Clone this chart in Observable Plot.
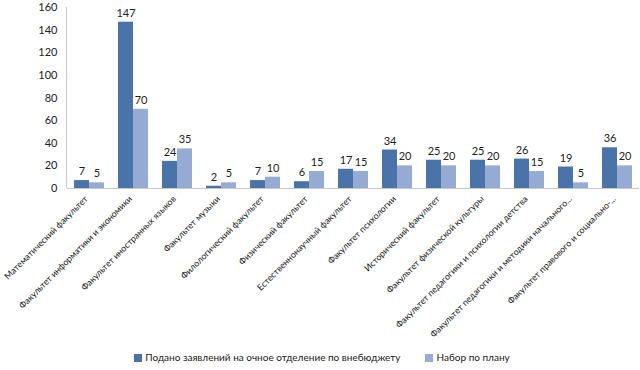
<!DOCTYPE html>
<html><head><meta charset="utf-8">
<script src="https://cdn.jsdelivr.net/npm/d3@7"></script>
<script src="https://cdn.jsdelivr.net/npm/@observablehq/plot@0.6"></script>
<style>
body{margin:0;background:#fff;font-family:Lato,"Open Sans",sans-serif;}
#legend{display:flex;justify-content:center;gap:25px;font-size:10px;color:#222;margin-top:1px;padding-left:4px}
#legend span.sw{display:inline-block;width:8px;height:8px;margin-right:3px;vertical-align:-1px}
</style></head>
<body><div id="chart"></div><div id="legend"></div>
<script>
const categories = [
  "Математический факультет",
  "Факультет информатики и экономики",
  "Факультет иностранных языков",
  "Факультет музыки",
  "Филологический факультет",
  "Физический факультет",
  "Естественнонаучный факультет",
  "Факультет психологии",
  "Исторический факультет",
  "Факультет физической культуры",
  "Факультет педагогики и психологии детства",
  "Факультет педагогики и методики начального...",
  "Факультет правового и социально-..."
];
const seriesNames = ["Подано заявлений на очное отделение по внебюджету", "Набор по плану"];
const applied = [7, 147, 24, 2, 7, 6, 17, 34, 25, 25, 26, 19, 36];
const planned = [5, 70, 35, 5, 10, 15, 15, 20, 20, 20, 15, 5, 20];
const colors = ["#4a74a9", "#95abd4"];
const yTicks = [0, 20, 40, 60, 80, 100, 120, 140, 160];

const data = [];
categories.forEach((c, i) => {
  data.push({cat: c, series: seriesNames[0], value: applied[i]});
  data.push({cat: c, series: seriesNames[1], value: planned[i]});
});

// size category labels so the longest fits like the reference and the first stays inside the page
const ctx = document.createElement("canvas").getContext("2d");
ctx.font = "10px Lato";
const longW = ctx.measureText(categories[11]).width;
const firstW = ctx.measureText(categories[0]).width;
const labelSize = Math.min(11, 10 * 204 / longW, 10 * 114 / firstW);

const chart = Plot.plot({
  width: 640,
  height: 350,
  marginLeft: 66,
  marginRight: 0,
  marginTop: 7,
  marginBottom: 162,
  style: {fontFamily: "Lato, 'Open Sans', sans-serif", fontSize: "11px", color: "#222", overflow: "visible"},
  fx: {domain: categories, padding: 0, label: null, axis: null},
  x: {domain: seriesNames, paddingInner: 0, paddingOuter: 0.38, axis: null},
  y: {domain: [0, 160], ticks: yTicks, label: null},
  color: {domain: seriesNames, range: colors},
  marks: [
    Plot.axisY({ticks: yTicks, tickSize: 0, tickPadding: 10, label: null, fontSize: 11}),
    Plot.barY(data, {fx: "cat", x: "series", y: "value", fill: "series"}),
    Plot.text(data, {fx: "cat", x: "series", y: "value", text: d => String(d.value), dy: -9, fontSize: 11, fill: "#222"}),
    Plot.text(categories, {fx: d => d, text: d => d, frameAnchor: "bottom", rotate: -45, textAnchor: "end", dx: -1, dy: 11, fontSize: labelSize, fill: "#222"}),
    Plot.ruleY([0], {stroke: "#c8c8c8"})
  ]
});
document.getElementById("chart").appendChild(chart);

// y-axis domain line
const ys = chart.scale("y");
d3.select(chart).append("line")
  .attr("x1", 66.5).attr("x2", 66.5)
  .attr("y1", ys.range[0]).attr("y2", ys.range[1])
  .attr("stroke", "#c8c8c8");

const leg = document.getElementById("legend");
seriesNames.forEach((s, i) => {
  const d = document.createElement("div");
  d.innerHTML = `<span class="sw" style="background:${colors[i]}"></span>${s}`;
  leg.appendChild(d);
});
</script></body></html>
